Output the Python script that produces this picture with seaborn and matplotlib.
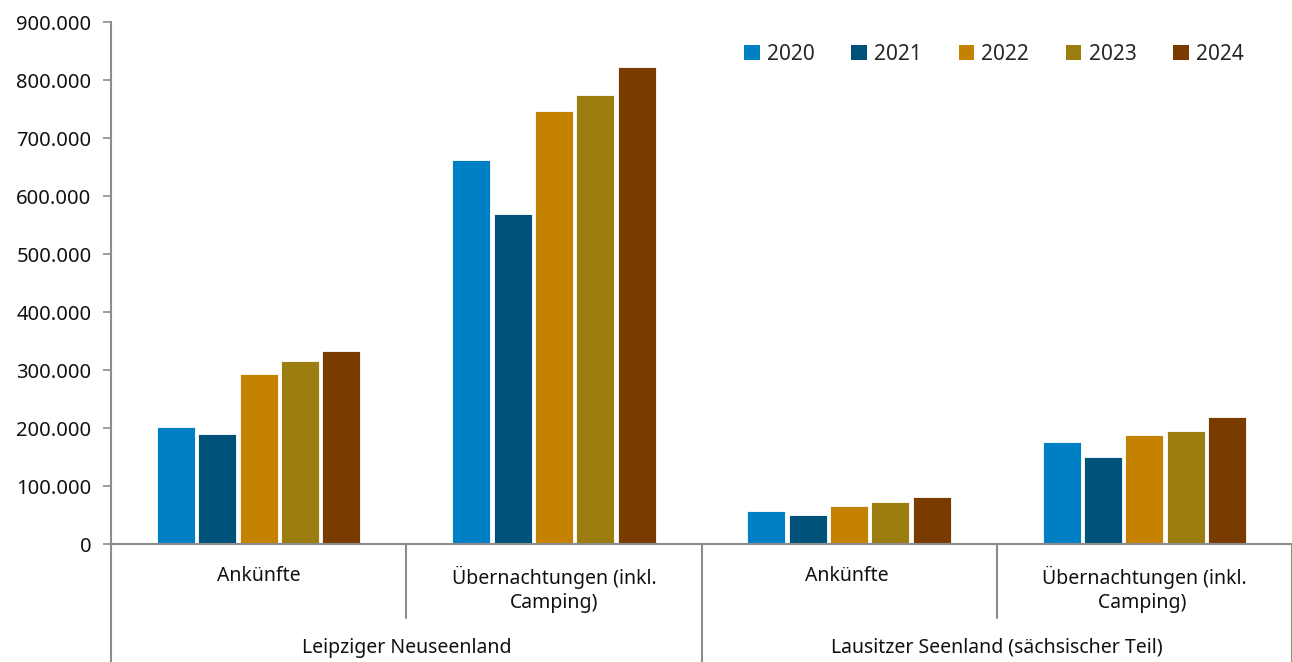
import matplotlib
matplotlib.use("Agg")
import matplotlib.pyplot as plt
import matplotlib.transforms as mtransforms
from matplotlib.ticker import FuncFormatter, MultipleLocator
from matplotlib.patches import Patch
import seaborn as sns
import pandas as pd

# ---- data ----
categories = ["Ankünfte", "Übernachtungen (inkl.\nCamping)",
              "Ankünfte ", "Übernachtungen (inkl.\nCamping) "]
regions = ["Leipziger Neuseenland", "Lausitzer Seenland (sächsischer Teil)"]
years = ["2020", "2021", "2022", "2023", "2024"]
values_2020 = [202000, 662000, 57000, 176000]
values_2021 = [190000, 569000, 50000, 150000]
values_2022 = [293000, 746000, 65500, 188000]
values_2023 = [315500, 774000, 72000, 195000]
values_2024 = [333000, 822000, 81000, 219000]
colors = ["#0080C4", "#00527A", "#C48200", "#9C7D10", "#7A3B00"]

series = [values_2020, values_2021, values_2022, values_2023, values_2024]
rows = []
for y, vals in zip(years, series):
    for c, v in zip(categories, vals):
        rows.append({"Kategorie": c, "Jahr": y, "Wert": v})
df = pd.DataFrame(rows)

sns.set_theme(style="white")
plt.rcParams["font.family"] = ["Noto Sans", "DejaVu Sans"]

fig = plt.figure(figsize=(12.92, 6.62), dpi=100)
ax = fig.add_axes([111/1292, 1-544/662, 1-111/1292, (544-22)/662])

sns.barplot(data=df, x="Kategorie", y="Wert", hue="Jahr", order=categories,
            hue_order=years, palette=colors, width=0.70, gap=0.08,
            edgecolor="white", linewidth=0.6, legend=False, ax=ax, saturation=1)

ax.set_xlim(-0.5, 3.5)
ax.set_ylim(0, 900000)
ax.yaxis.set_major_locator(MultipleLocator(100000))
ax.yaxis.set_major_formatter(FuncFormatter(lambda v, p: f"{int(v):,}".replace(",", ".")))
ax.set_xlabel("")
ax.set_ylabel("")

for s in ["top", "right"]:
    ax.spines[s].set_visible(False)
for s in ["left", "bottom"]:
    ax.spines[s].set_color("#8c8c8c")
    ax.spines[s].set_linewidth(1.5)

ax.tick_params(axis="y", left=True, length=6, width=1.2, color="#8c8c8c",
               labelsize=14.5, labelcolor="#111111", pad=8)
ax.tick_params(axis="x", bottom=False, length=0, labelsize=14, pad=16,
               labelcolor="#111111")
for lbl in ax.get_xticklabels():
    lbl.set_linespacing(1.25)

ax_h = 544 - 22
trans = mtransforms.blended_transform_factory(ax.transData, ax.transAxes)
# separators
outer_bottom = -(662 - 544) / ax_h
inner_bottom = -(618 - 544) / ax_h
for x in [-0.5, 1.5, 3.5]:
    ax.plot([x, x], [0, outer_bottom], transform=trans, color="#8c8c8c",
            lw=1.5, clip_on=False)
for x in [0.5, 2.5]:
    ax.plot([x, x], [0, inner_bottom], transform=trans, color="#8c8c8c",
            lw=1.5, clip_on=False)

for i, r in enumerate(regions):
    ax.text(0.5 + 2 * i, -(648 - 544) / ax_h, r, transform=trans,
            ha="center", va="center", fontsize=14, color="#111111")

handles = [Patch(facecolor=c, edgecolor="none", label=y) for c, y in zip(colors, years)]
fig.legend(handles=handles, loc="center", bbox_to_anchor=(994/1292, 1-54/662),
           ncol=5, frameon=False, fontsize=15, handlelength=0.75, handleheight=0.75,
           handletextpad=0.35, columnspacing=1.75)

fig.savefig("out.png", dpi=100)
